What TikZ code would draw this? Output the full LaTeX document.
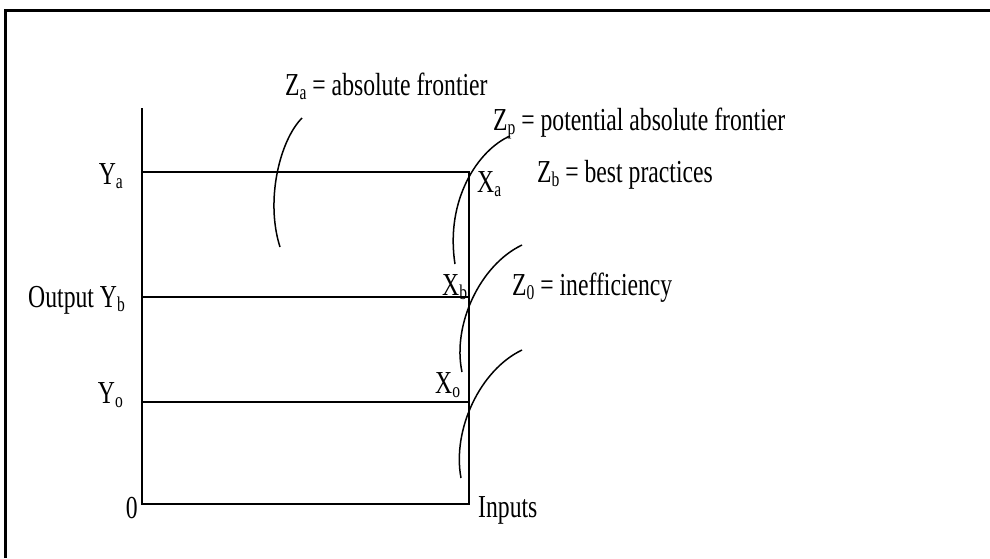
\documentclass[tikz,border=0pt]{standalone}
\usepackage{fontspec}
\setmainfont{Liberation Serif}[FakeStretch=0.74]
\newcommand{\sbx}[1]{\raisebox{-4pt}{\fontsize{21}{21}\selectfont #1}}
\begin{document}
\begin{tikzpicture}[x=1pt,y=-1pt,
  lbl/.style={inner sep=0pt, font=\fontsize{32}{36}\selectfont},
  ax/.style={line width=1.8pt, line join=miter},
  arcline/.style={line width=1.5pt},
  frame/.style={line width=3.5pt, line join=miter}]
\useasboundingbox (0,0) rectangle (990,558);
\draw[frame] (5.5,558) -- (5.5,10.5) -- (990,10.5);
% axes and levels
\coordinate (top) at (142,108);
\coordinate (O) at (142,504);
\coordinate (Ya) at (142,172);
\coordinate (Yb) at (142,297);
\coordinate (Yo) at (142,402);
\coordinate (Xa) at (469,172);
\coordinate (Xb) at (469,297);
\coordinate (Xo) at (469,402);
\coordinate (In) at (469,504);
\draw[ax] (top) -- (O) -- (In) -- (Xa) -- (Ya);
\draw[ax] (Yb) -- (Xb);
\draw[ax] (Yo) -- (Xo);
% labels
\node[lbl, anchor=base east] (lYa) at (123,184) {Y\sbx{a}};
\node[lbl, anchor=base east] (lYb) at (125,307) {Output Y\sbx{b}};
\node[lbl, anchor=base east] (lYo) at (123,403) {Y\sbx{o}};
\node[lbl, anchor=base east] (l0) at (138,518) {0};
\node[lbl, anchor=base west] (lIn) at (478,517) {Inputs};
\node[lbl, anchor=base west] (lXa) at (477,192) {X\sbx{a}};
\node[lbl, anchor=base west] (lXb) at (442,295) {X\sbx{b}};
\node[lbl, anchor=base west] (lXo) at (435,393) {X\sbx{o}};
\node[lbl, anchor=base west] (lZa) at (285,95) {Z\sbx{a} = absolute frontier};
\node[lbl, anchor=base west] (lZp) at (493,130) {Z\sbx{p} = potential absolute frontier};
\node[lbl, anchor=base west] (lZb) at (537,182) {Z\sbx{b} = best practices};
\node[lbl, anchor=base west] (lZ0) at (512,295) {Z\sbx{0} = inefficiency};
% frontier arcs
\draw[arcline] (302,118) .. controls (280,140) and (265,200) .. (280,247);
\draw[arcline] (510,136) .. controls (478,150) and (445,200) .. (455,264);
\draw[arcline] (522,245) .. controls (480,265) and (452,325) .. (462,372);
\draw[arcline] (522,350) .. controls (480,370) and (452,430) .. (461,478);
\end{tikzpicture}
\end{document}
